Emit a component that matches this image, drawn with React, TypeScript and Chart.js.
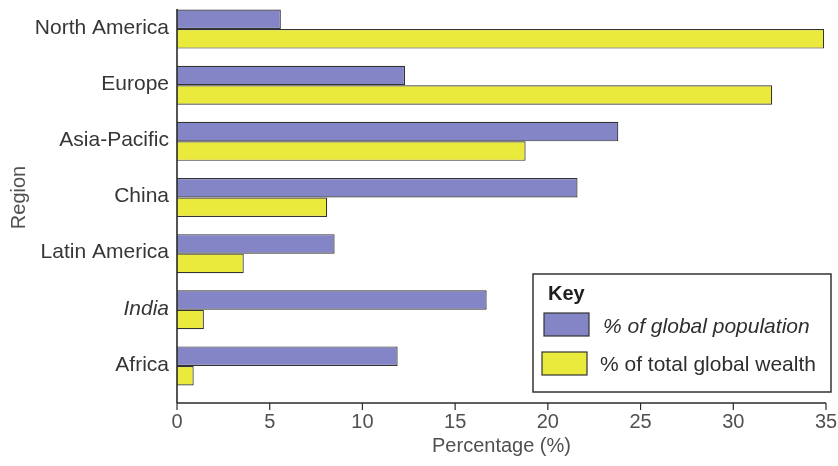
import React, { useEffect, useRef } from "react";
import { Chart, registerables } from "chart.js";

Chart.register(...registerables);

const categories = ["North America", "Europe", "Asia-Pacific", "China", "Latin America", "India", "Africa"];
const populationShare = [5.6, 12.3, 23.8, 21.6, 8.5, 16.7, 11.9];
const wealthShare = [34.9, 32.1, 18.8, 8.1, 3.6, 1.45, 0.9];
const xTicks = [0, 5, 10, 15, 20, 25, 30, 35];
const seriesLabels = ["% of global population", "% of total global wealth"];
const keyTitle = "Key";
const xTitle = "Percentage (%)";
const yTitle = "Region";

const FONT = "'Liberation Sans', Arial, Helvetica, sans-serif";
const PURPLE = "#8485c6";
const YELLOW = "#eaea3c";
const EDGE = "#333333";

const axesAndKey = {
  id: "axesAndKey",
  afterDatasetsDraw(chart: any) {
    const { ctx, chartArea, scales } = chart;
    const xs = scales.x;
    const axisY = chartArea.bottom + 9;
    ctx.save();
    ctx.strokeStyle = "#2a2a2a";
    ctx.lineWidth = 1.6;
    // y axis line
    ctx.beginPath();
    ctx.moveTo(chartArea.left, chartArea.top + 8);
    ctx.lineTo(chartArea.left, axisY);
    ctx.stroke();
    // x axis line
    ctx.beginPath();
    ctx.moveTo(chartArea.left, axisY);
    ctx.lineTo(chartArea.right, axisY);
    ctx.stroke();
    // tick marks
    ctx.lineWidth = 1.2;
    xTicks.forEach((t) => {
      const px = xs.getPixelForValue(t);
      ctx.beginPath();
      ctx.moveTo(px, axisY);
      ctx.lineTo(px, axisY + 7);
      ctx.stroke();
    });

    // key box
    const bx = chartArea.right - 293;
    const by = chartArea.top + 273;
    ctx.lineWidth = 1.5;
    ctx.strokeStyle = "#333";
    ctx.fillStyle = "#ffffff";
    ctx.fillRect(bx, by, 298, 118);
    ctx.strokeRect(bx, by, 298, 118);

    ctx.fillStyle = "#1e1e1e";
    ctx.textBaseline = "alphabetic";
    ctx.textAlign = "left";
    ctx.font = `bold 20px ${FONT}`;
    ctx.fillText(keyTitle, bx + 15, by + 26);

    const ds = chart.data.datasets;
    const rows = [
      { sx: bx + 11, sy: by + 39, tx: bx + 70, ty: by + 59, italic: true },
      { sx: bx + 9, sy: by + 78, tx: bx + 67, ty: by + 97, italic: false },
    ];
    rows.forEach((r, i) => {
      ctx.fillStyle = ds[i].backgroundColor;
      ctx.fillRect(r.sx, r.sy, 45, 23);
      ctx.lineWidth = 1.2;
      ctx.strokeStyle = EDGE;
      ctx.strokeRect(r.sx, r.sy, 45, 23);
      ctx.fillStyle = "#2e2e2e";
      ctx.font = `${r.italic ? "italic " : ""}21px ${FONT}`;
      ctx.fillText(ds[i].label, r.tx, r.ty);
    });
    ctx.restore();
  },
};

export default function App() {
  const ref = useRef<HTMLCanvasElement | null>(null);

  useEffect(() => {
    document.body.style.margin = "0";
    const canvas = ref.current;
    if (!canvas) return;
    const chart = new Chart(canvas, {
      type: "bar",
      data: {
        labels: categories,
        datasets: [
          {
            label: seriesLabels[0],
            data: populationShare,
            backgroundColor: PURPLE,
            borderColor: EDGE,
            borderWidth: 1.2,
            categoryPercentage: 0.695,
            barPercentage: 1.0,
          },
          {
            label: seriesLabels[1],
            data: wealthShare,
            backgroundColor: YELLOW,
            borderColor: EDGE,
            borderWidth: 1.2,
            categoryPercentage: 0.695,
            barPercentage: 1.0,
          },
        ],
      },
      plugins: [axesAndKey],
      options: {
        indexAxis: "y",
        responsive: false,
        animation: false,
        maintainAspectRatio: false,
        layout: { padding: { top: 1, right: 12, left: 0, bottom: 0 } },
        plugins: {
          legend: { display: false },
          tooltip: { enabled: false },
        },
        scales: {
          x: {
            type: "linear",
            min: 0,
            max: 35,
            afterBuildTicks: (scale: any) => {
              scale.ticks = xTicks.map((v) => ({ value: v }));
            },
            afterFit: (scale: any) => {
              scale.height = 72;
              scale.paddingLeft = 0;
              scale.paddingRight = 0;
            },
            grid: { display: false, drawTicks: false },
            border: { display: false },
            ticks: {
              padding: 16,
              color: "#505050",
              font: { family: FONT, size: 20 },
            },
            title: {
              display: true,
              text: xTitle,
              color: "#505050",
              font: { family: FONT, size: 20 },
              padding: { top: 0, bottom: 8 },
            },
          },
          y: {
            type: "category",
            afterFit: (scale: any) => {
              scale.width = 177;
              scale.paddingTop = 0;
              scale.paddingBottom = 0;
            },
            grid: { display: false, drawTicks: false },
            border: { display: false },
            ticks: {
              padding: 8,
              labelOffset: -1,
              color: "#363636",
              font: (c: any) => ({
                family: FONT,
                size: 21,
                style: categories[c.index] === "India" ? "italic" : "normal",
              }),
            },
            title: {
              display: true,
              text: yTitle,
              color: "#505050",
              font: { family: FONT, size: 20 },
              padding: { top: 7, bottom: 0 },
            },
          },
        },
      },
    });
    return () => chart.destroy();
  }, []);

  return (
    <div style={{ width: 838, height: 466, background: "#fff" }}>
      <canvas ref={ref} width={838} height={466} style={{ display: "block" }} />
    </div>
  );
}
